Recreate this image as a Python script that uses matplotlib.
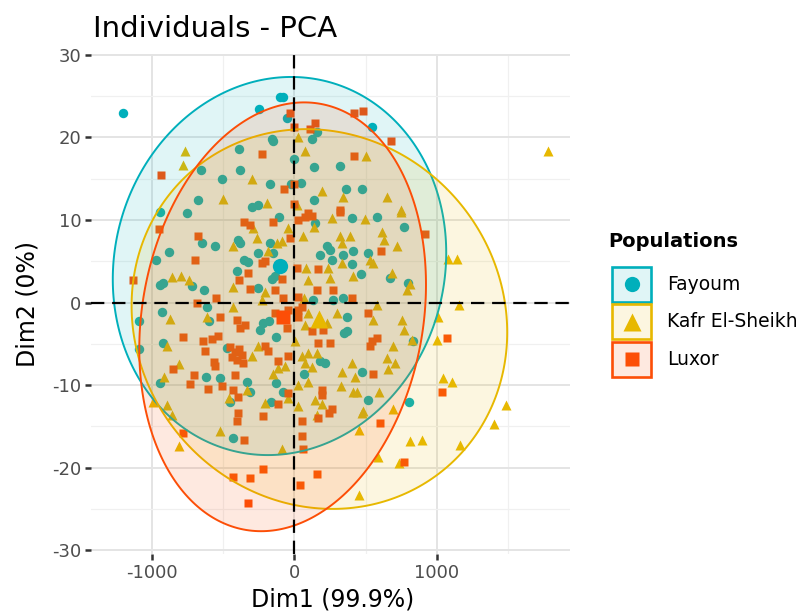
import numpy as np
import matplotlib
matplotlib.use("Agg")
import matplotlib.pyplot as plt
from matplotlib import patches
from matplotlib.lines import Line2D
from matplotlib.colors import to_rgba

plt.rcParams['axes.unicode_minus'] = False
plt.rcParams['font.family'] = ['DejaVu Sans']

# --- data (Dim1, Dim2) ---
groups = ["Fayoum", "Kafr El-Sheikh", "Luxor"]
colors = ["#00AFBB", "#E7B800", "#FC4E07"]
markers = ["o", "^", "s"]

fayoum_pts = [
    (-1201, 22.9), (-658, 16.0), (-389, 18.6), (-385, 16.1), (-507, 15.0), (-675, 12.4),
    (-944, 11.0), (-757, 10.8), (-300, 11.6),
    (-102, 24.9), (-79, 24.9), (-249, 23.5), (-55, 22.4), (156, 20.6), (546, 21.3),
    (-160, 19.8), (121, 19.8), (-1, 17.4), (139, 16.4), (319, 16.5), (-172, 14.4),
    (-25, 14.4), (46, 14.5), (359, 13.7), (471, 13.7), (139, 12.4), (-258, 11.8),
    (-651, 7.2), (-558, 6.9), (-394, 7.6), (-382, 7.2), (-881, 6.1), (-974, 5.2),
    (-354, 5.1), (-324, 4.85), (-406, 3.8), (-944, 2.1), (-921, 2.4), (-722, 1.95),
    (-635, 1.5), (-612, -0.5), (-932, -1.2), (-1089, -2.2), (-925, -4.9), (-1089, -5.65),
    (-476, -5.5), (-621, -9.0), (-523, -9.2), (-944, -9.8),
    (-109, 10.4), (144, 9.6), (406, 10.2), (577, 10.35), (771, 9.1), (-172, 7.2),
    (226, 6.8), (249, 6.4), (413, 6.2), (343, 5.8), (179, 5.8), (513, 6.0), (-254, 6.0),
    (-149, 6.0), (-137, 3.2), (261, 5.2), (401, 4.7), (467, 3.4), (670, 2.96), (799, 2.4),
    (-254, 1.7), (132, 0.3), (273, 0.25), (343, 0.5), (366, -1.8), (-219, -2.5),
    (-242, -3.3), (-179, -2.3), (-132, -4.2), (350, -3.7), (366, -3.4), (214, -7.3),
    (179, -7.1), (69, -8.6), (471, -8.4),
    (-453, -12.0), (-331, -9.6), (-312, -10.8), (-429, -16.4),
    (-132, -9.8), (-78, -10.9), (-165, -12.1), (518, -11.8), (803, -12.0),
    (831, -4.7), (-600, -2.2), (-153, 19.6), (-159, 2.8),
]

kafr_pts = [
    (-768, 18.4), (-780, 16.6), (-296, 15.0), (-504, 12.5),
    (22, 20.0), (74, 18.3), (502, 17.8), (191, 13.5), (343, 12.8), (651, 12.8),
    (-195, 12.0), (15, 11.8), (747, 11.2), (1781, 18.3),
    (-434, 6.9), (-862, 3.15), (-799, 3.2), (-740, 2.7), (-434, 1.9), (-434, -0.55),
    (-874, -2.0), (-612, -1.7), (-893, -5.25), (-300, -6.5), (-808, -7.4), (-916, -9.0),
    (-43, 9.0), (139, 9.1), (266, 10.2), (495, 10.1), (745, 11.0), (62, 8.1), (-90, 7.4),
    (-125, 7.2), (319, 8.0), (331, 7.2), (390, 8.1), (612, 8.6), (631, 7.6), (717, 6.8),
    (-184, 6.2), (78, 4.2), (233, 4.2), (249, 2.96), (331, 4.8), (530, 5.2), (553, 4.8),
    (413, 3.2), (682, 3.6), (92, 2.7), (810, 2.3), (787, 1.5), (-207, 1.3), (69, 0.5),
    (577, -0.3), (-230, 0.3), (553, -2.1), (296, -1.3), (97, -1.3), (226, -2.5),
    (74, -2.7), (752, -2.1), (771, -3.3), (822, -4.5), (3, -4.7), (694, -5.3),
    (-254, -5.3), (50, -6.5), (97, -6.1), (156, -6.1), (74, -7.3), (121, -7.8),
    (-113, -7.95), (-67, -7.75), (-149, -8.6), (401, -7.3), (647, -6.7), (705, -7.3),
    (331, -8.4), (425, -9.0), (659, -8.0),
    (1080, 5.3), (1138, 5.3), (1157, -0.27), (1009, -1.8), (1002, -4.6), (1045, -9.2),
    (1103, -9.6),
    (-457, -11.6), (-336, -10.6), (-995, -12.1), (-897, -12.4), (-862, -13.6),
    (-808, -17.4), (-523, -15.6),
    (-43, -11.6), (-207, -12.2), (27, -10.0), (97, -9.6), (144, -11.8), (191, -12.3),
    (27, -12.5), (156, -13.6), (-85, -17.8), (326, -10.1), (413, -10.9), (436, -10.8),
    (593, -10.8), (471, -13.4), (483, -13.2), (694, -12.9), (453, -15.4), (810, -16.8),
    (588, -18.7), (733, -19.4), (453, -23.3),
    (1484, -12.4), (1400, -14.7), (892, -16.6), (1161, -17.25),
    (-290, 9.0), (-266, 7.8),
]

luxor_pts = [
    (-937, 15.4),
    (-32, 23.0), (418, 22.9), (483, 23.2), (-1, 21.3), (109, 21.0), (144, 21.7),
    (677, 19.6), (-226, 18.0), (418, 17.7), (-1, 14.4), (-72, 13.8), (-1, 11.9),
    (319, 11.2), (97, 10.8),
    (-949, 8.9), (-675, 8.1), (-354, 9.8), (-312, 9.4), (-698, 5.1), (-324, 3.6),
    (-1135, 2.75), (-387, 2.75), (-312, 1.6), (-551, 0.5), (-686, 0.0), (-523, -1.8),
    (-406, -2.1), (-347, -2.7), (-382, -3.1), (-780, -4.2), (-535, -4.1), (-640, -4.7),
    (-581, -4.4), (-628, -5.9), (-450, -5.4), (-420, -6.0), (-390, -5.6), (-440, -6.6),
    (-400, -7.0), (-370, -6.3), (-565, -7.15), (-558, -7.75), (-359, -7.35), (-855, -8.1),
    (-705, -8.8), (-418, -8.8),
    (-149, 9.7), (27, 10.0), (74, 10.4), (121, 10.5), (-32, 7.8), (319, 11.0), (605, 6.3),
    (-230, 4.8), (-207, 5.0), (-90, 2.8), (15, 4.2), (167, 4.05), (156, 1.5), (273, 1.5),
    (-137, 1.5), (-78, 0.5), (27, 0.65), (50, -0.5), (401, 0.5), (518, -1.3), (-137, -1.3),
    (-43, -0.9), (-55, -3.1), (27, -0.9), (27, -1.7), (121, -3.5), (202, -3.3),
    (541, -4.7), (577, -4.3), (530, -5.3), (167, -4.9), (249, -4.9), (-207, -5.3),
    (-184, -5.9), (-43, -6.5), (-113, -7.1), (553, -8.6),
    (916, 8.3), (1073, -4.3),
    (-733, -9.85), (-605, -10.5), (-511, -10.1), (-429, -10.6), (-394, -11.4),
    (-394, -13.4), (-406, -14.3), (-785, -15.8), (-354, -16.6), (-434, -21.1),
    (-312, -21.3), (-324, -24.3),
    (-43, -11.0), (-114, -12.3), (-219, -13.7), (191, -10.6), (191, -11.2), (261, -12.9),
    (242, -13.4), (167, -14.0), (50, -14.4), (50, -16.2), (62, -17.7), (-219, -20.2),
    (156, -20.8), (39, -22.1), (600, -14.6), (771, -19.3),
    (1033, -10.9),
]

# confidence ellipses: centre, half width, half height, tilt
ell_center = [(-105, 4.42), (175, -2.0), (-83, -1.73)]
ell_rx = [1170, 1318, 1006]
ell_ry = [22.9, 23.0, 25.97]
ell_rho = [0.07, -0.07, 0.15]

W, H = 806, 614
fig = plt.figure(figsize=(W / 100, H / 100), dpi=100)


def fx(x):
    return x / W


def fy(y):
    return 1 - y / H


ax = fig.add_axes([fx(91.4), fy(553.9), fx(570.2) - fx(91.4), fy(53.6) - fy(553.9)])
ax.set_xlim(-1425, 1935)
ax.set_ylim(-30.45, 30.15)
for s in ax.spines.values():
    s.set_visible(False)

ax.set_xticks([-1000, 0, 1000])
ax.set_xticks([-500, 500, 1500], minor=True)
ax.set_yticks([-30, -20, -10, 0, 10, 20, 30])
ax.set_yticks([-25, -15, -5, 5, 15, 25], minor=True)
ax.grid(which='major', color='#E4E4E4', lw=1.4, zorder=0)
ax.grid(which='minor', color='#F0F0F0', lw=0.9, zorder=0)
ax.set_axisbelow(True)
ax.tick_params(which='major', length=4.2, width=1.8, color='#333333',
               labelcolor='#4D4D4D', labelsize=13, pad=3)
ax.tick_params(which='minor', length=0)

all_pts = [fayoum_pts, kafr_pts, luxor_pts]
sizes = [6.8, 7.8, 6.3]

for pts, c, m, ms in zip(all_pts, colors, markers, sizes):
    xs = [p[0] for p in pts]
    ys = [p[1] for p in pts]
    ax.plot(xs, ys, ls='none', marker=m, ms=ms, color=c, mec='none', zorder=2)

t = np.linspace(0, 2 * np.pi, 300)
for (cx, cy), rx, ry, rho, c in zip(ell_center, ell_rx, ell_ry, ell_rho, colors):
    ex = cx + rx * np.cos(t)
    ey = cy + ry * (rho * np.cos(t) + np.sqrt(1 - rho ** 2) * np.sin(t))
    ax.fill(ex, ey, facecolor=to_rgba(c, 0.12), edgecolor=c, lw=1.4, zorder=3)

ax.axhline(0, color='black', ls=(0, (6, 3.5)), lw=1.6, zorder=4)
ax.axvline(0, color='black', ls=(0, (6, 3.5)), lw=1.6, zorder=4)

# group means
mean_sizes = [11, 13, 10]
for (cx, cy), c, m, ms in zip(ell_center, colors, markers, mean_sizes):
    ax.plot([cx], [cy], marker=m, ms=ms, color=c, mec='none', zorder=5)

fig.text(fx(93), fy(37.3), "Individuals - PCA", fontsize=21, va='baseline', ha='left')
fig.text(fx(333), fy(606.7), "Dim1 (99.9%)", fontsize=17, va='baseline', ha='center')
fig.text(fx(28), fy(303.7), "Dim2 (0%)", fontsize=17, rotation=90, va='center', ha='center')

# legend
fig.text(fx(608), fy(246.7), "Populations", fontsize=14, fontweight='bold', va='baseline')
box_tops = [266.7, 304.2, 341.7]
leg_ms = [11, 12.5, 10.5]
for top, g, c, m, ms in zip(box_tops, groups, colors, markers, leg_ms):
    rect = patches.Rectangle((fx(612), fy(top + 35)), fx(651) - fx(612), fy(top) - fy(top + 35),
                             transform=fig.transFigure, facecolor=to_rgba(c, 0.12),
                             edgecolor=c, lw=1.9)
    fig.add_artist(rect)
    fig.add_artist(Line2D([fx(631.5)], [fy(top + 17.5)], marker=m, ms=ms, color=c,
                          mec='none', transform=fig.transFigure))
    fig.text(fx(667), fy(top + 17.5), g, fontsize=13.5, va='center', ha='left')

fig.savefig("out.png", dpi=100)
